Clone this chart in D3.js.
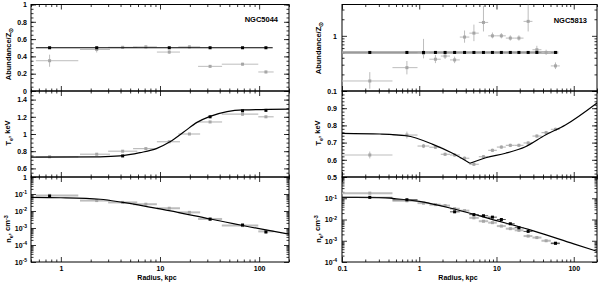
<!DOCTYPE html>
<html><head><meta charset="utf-8">
<script src="https://cdn.jsdelivr.net/npm/d3@7"></script>
<style>body{margin:0;background:#fff}svg{display:block}text{font-family:"Liberation Sans",Arial,sans-serif;font-weight:bold;fill:#000}</style>
</head><body><svg id="c" width="600" height="282"></svg>
<script>
// ---------------- NGC5044 (left) ----------------
const r5044   = [0.77, 2.3, 4.2, 7.2, 12.4, 19.8, 32, 68, 117];
const r5044Lo = [0.56, 1.56, 3.0, 5.35, 9.3, 15.3, 24.2, 42, 98];
const r5044Hi = [1.5, 3.13, 5.9, 9.3, 15.9, 25.4, 42.3, 98, 140];
const abund5044    = [0.35, 0.48, 0.505, 0.51, 0.45, 0.51, 0.285, 0.31, 0.22];
const abund5044Err = [0.07, 0.035, 0.015, 0.015, 0.02, 0.015, 0.015, 0.015, 0.015];
const abModel5044R = [0.77, 2.3, 12.4, 32, 68, 117];
const abModel5044  = [0.5, 0.5, 0.5, 0.5, 0.5, 0.5];
const abLine5044   = [[0.56, 0.5], [137, 0.5]];
const temp5044     = [0.735, 0.765, 0.80, 0.83, 0.91, 1.0, 1.14, 1.23, 1.2];
const temp5044Err  = [0.01, 0.01, 0.01, 0.01, 0.01, 0.01, 0.012, 0.015, 0.01];
const tModel5044R  = [4.2, 32, 68, 117];
const tModel5044   = [0.745, 1.2, 1.27, 1.275];
const tCurve5044R  = [0.5, 2.48, 3.95, 6.29, 9.3, 12.6, 17.2, 23.6, 32, 47.5, 69, 200];
const tCurve5044   = [0.73, 0.735, 0.745, 0.783, 0.833, 0.91, 1.02, 1.135, 1.205, 1.26, 1.28, 1.29];
const dens5044     = [0.083, 0.041, 0.032, 0.025, 0.0145, 0.0083, 0.0034, 0.00138, 0.00063];
const nModel5044R  = [0.77, 32, 68, 117];
const nModel5044   = [0.075, 0.0033, 0.0015, 0.00058];
const nCurve5044R  = [0.5, 1, 2.5, 4.2, 10, 32, 100, 200];
const nCurve5044   = [0.063, 0.06, 0.049, 0.032, 0.0132, 0.0034, 0.00091, 0.00044];

// ---------------- NGC5813 (right) ----------------
const r5813   = [0.229, 0.692, 1.136, 1.62, 2.16, 2.87, 3.86, 5.1, 6.78, 8.86, 11.56, 15.1, 19.5, 25.7, 33.3, 43.9, 58.0];
const r5813Lo = [0.1, 0.45, 0.95, 1.35, 1.9, 2.5, 3.35, 4.45, 5.9, 7.8, 10.1, 13.2, 17.2, 22.4, 29.2, 38.2, 50.5];
const r5813Hi = [0.45, 0.95, 1.35, 1.9, 2.5, 3.35, 4.45, 5.9, 7.8, 10.1, 13.2, 17.2, 22.4, 29.2, 38.2, 50.5, 66];
const abund5813   = [0.152, 0.265, 0.485, 0.377, 0.43, 0.366, 0.95, 1.12, 1.75, 1.0, 1.0, 0.91, 0.91, 1.83, 0.56, 0.5, 0.285];
const abund5813Lo = [0.11, 0.2, 0.39, 0.32, 0.38, 0.32, 0.75, 0.8, 1.2, 0.9, 0.9, 0.82, 0.82, 1.2, 0.48, 0.45, 0.25];
const abund5813Hi = [0.22, 0.35, 0.88, 0.45, 0.5, 0.42, 1.25, 1.6, 3.5, 1.15, 1.12, 1.02, 1.02, 3.7, 0.66, 0.56, 0.33];
const abModel5813R = [0.229, 0.692, 1.136, 1.62, 2.16, 2.87, 3.86, 5.1, 6.78, 8.86, 11.56, 15.1, 19.5, 25.7, 33.3, 58.0];
const abModel5813  = [0.5, 0.5, 0.5, 0.5, 0.5, 0.5, 0.5, 0.5, 0.5, 0.5, 0.5, 0.5, 0.5, 0.5, 0.5, 0.5];
const abLine5813   = [[0.1, 0.5], [63, 0.5]];
const temp5813    = [0.628, 0.744, 0.68, 0.673, 0.632, 0.628, 0.609, 0.574, 0.618, 0.655, 0.674, 0.684, 0.684, 0.698, 0.738, 0.758, 0.777];
const temp5813Err = [0.02, 0.02, 0.012, 0.01, 0.01, 0.01, 0.01, 0.01, 0.01, 0.01, 0.01, 0.01, 0.01, 0.01, 0.01, 0.01, 0.01];
const tCurve5813aR = [0.1, 0.31, 0.68, 1.5, 2.7, 4.53];
const tCurve5813a  = [0.754, 0.75, 0.74, 0.69, 0.638, 0.58];
const tCurve5813bR = [4.53, 7.26, 13.1, 23.7, 43, 78, 200];
const tCurve5813b  = [0.58, 0.612, 0.638, 0.676, 0.744, 0.802, 0.93];
const dens5813    = [0.174, 0.076, 0.059, 0.05, 0.045, 0.032, 0.026, 0.012, 0.0083, 0.0071, 0.0049, 0.0037, 0.0031, 0.00166, 0.00141, 0.001, 0.00076];
const nModel5813R = [0.229, 0.692, 2.87, 5.1, 6.78, 8.86, 11.56, 15.1, 19.5, 25.7, 58.0];
const nModel5813  = [0.11, 0.085, 0.023, 0.017, 0.015, 0.0129, 0.01, 0.0063, 0.0041, 0.00275, 0.00076];
const nCurve5813R = [0.1, 0.3, 0.5, 1, 3, 10, 30, 100, 200];
const nCurve5813  = [0.11, 0.107, 0.095, 0.071, 0.0295, 0.0089, 0.0029, 0.00071, 0.00032];

// ---------------- tick labels ----------------
const xLabelsL = [1, 10, 100];
const xLabelsR = [0.1, 1, 10, 100];
const abLabelsL = [0, 0.2, 0.4, 0.6, 0.8, 1];
const tLabelsL  = [0.6, 0.8, 1, 1.2, 1.4];
const nLabelsL  = [1, 0.1, 0.01, 0.001, 0.0001, 0.00001];
const abLabelsR = [0.1, 1];
const tLabelsR  = [0.5, 0.6, 0.7, 0.8, 0.9];
const nLabelsR  = [0.1, 0.01, 0.001, 0.0001];

// ---------------- layout ----------------
const svg = d3.select('#c');
const ROWS = [[4.5, 91], [91, 177], [177, 262]];
const GREY = '#a6a6a6', GREYBAR = '#bdbdbd';

const xL = d3.scaleLog().domain([0.5, 200]).range([31, 289]);
const xR = d3.scaleLog().domain([0.1, 200]).range([342, 597]);
const yAbL = d3.scaleLinear().domain([0, 1]).range([ROWS[0][1], ROWS[0][0]]);
const yTL  = d3.scaleLinear().domain([0.5, 1.5]).range([ROWS[1][1], ROWS[1][0]]);
const yNL  = d3.scaleLog().domain([1e-5, 1]).range([ROWS[2][1], ROWS[2][0]]);
const yAbR = d3.scaleLog().domain([0.1, 3.7]).range([ROWS[0][1], ROWS[0][0]]);
const yTR  = d3.scaleLinear().domain([0.5, 1.0]).range([ROWS[1][1], ROWS[1][0]]);
const yNR  = d3.scaleLog().domain([1e-4, 1]).range([ROWS[2][1], ROWS[2][0]]);

function isDecade(v){ const l = Math.log10(v); return Math.abs(l - Math.round(l)) < 1e-6; }

function tickAxis(g, axisFn, scale, pos, values, len, horiz){
  const gg = g.append('g').attr('transform', horiz ? `translate(0,${pos})` : `translate(${pos},0)`)
    .call(axisFn(scale).tickValues(values).tickSize(-len).tickFormat(''));
  gg.select('.domain').remove();
  gg.selectAll('line').attr('stroke', '#000').attr('stroke-width', 0.8);
}

function frame(x, y, xMajor, xMinor, yMajor, yMinor){
  const g = svg.append('g');
  const [x0, x1] = x.range(); const [y1, y0] = y.range();
  tickAxis(g, d3.axisBottom, x, y1, xMajor, 5, true);
  tickAxis(g, d3.axisBottom, x, y1, xMinor, 2.5, true);
  tickAxis(g, d3.axisTop, x, y0, xMajor, 5, true);
  tickAxis(g, d3.axisTop, x, y0, xMinor, 2.5, true);
  tickAxis(g, d3.axisLeft, y, x0, yMajor, 5, false);
  tickAxis(g, d3.axisLeft, y, x0, yMinor, 2.5, false);
  tickAxis(g, d3.axisRight, y, x1, yMajor, 5, false);
  tickAxis(g, d3.axisRight, y, x1, yMinor, 2.5, false);
  g.append('rect').attr('x', x0).attr('y', y0).attr('width', x1 - x0).attr('height', y1 - y0)
    .attr('fill', 'none').attr('stroke', '#000').attr('stroke-width', 1);
}

function yLabels(scale, pos, values, pad, pow){
  const gg = svg.append('g').attr('transform', `translate(${pos},0)`)
    .call(d3.axisLeft(scale).tickValues(values).tickSize(0).tickPadding(pad).tickFormat(d => String(d)));
  gg.select('.domain').remove();
  gg.attr('font-family', null).attr('font-size', null);
  gg.selectAll('text').attr('font-size', '7px');
  if (pow) {
    gg.selectAll('.tick text').each(function(d){
      const t = d3.select(this);
      if (d === 1) { t.text('1'); return; }
      const e = Math.round(Math.log10(d));
      t.text(null);
      t.append('tspan').text('10');
      t.append('tspan').attr('dy', '-0.5em').attr('font-size', '5px').text('-' + Math.abs(e));
    });
  }
}

function xLabels(scale, pos, values){
  const gg = svg.append('g').attr('transform', `translate(0,${pos})`)
    .call(d3.axisBottom(scale).tickValues(values).tickSize(0).tickPadding(4).tickFormat(d => String(d)));
  gg.select('.domain').remove();
  gg.attr('font-family', null).attr('font-size', null);
  gg.selectAll('text').attr('font-size', '7px');
}

function linTicks(scale, step){ return scale.ticks(Math.round((scale.domain()[1]-scale.domain()[0])/step)); }

// ---- frames ----
const xLall = xL.ticks(), xRall = xR.ticks();
const xLmaj = xLall.filter(isDecade), xLmin = xLall.filter(v => !isDecade(v));
const xRmaj = xRall.filter(isDecade), xRmin = xRall.filter(v => !isDecade(v));

frame(xL, yAbL, xLmaj, xLmin, linTicks(yAbL, 0.2), linTicks(yAbL, 0.05));
frame(xL, yTL, xLmaj, xLmin, [0.6, 0.8, 1.0, 1.2, 1.4], linTicks(yTL, 0.05));
frame(xL, yNL, xLmaj, xLmin, yNL.ticks().filter(isDecade), yNL.ticks().filter(v => !isDecade(v)));
frame(xR, yAbR, xRmaj, xRmin, yAbR.ticks().filter(isDecade), yAbR.ticks().filter(v => !isDecade(v)));
frame(xR, yTR, xRmaj, xRmin, linTicks(yTR, 0.1), linTicks(yTR, 0.02));
frame(xR, yNR, xRmaj, xRmin, yNR.ticks().filter(isDecade), yNR.ticks().filter(v => !isDecade(v)));

// ---- tick labels ----
yLabels(yAbL, 31, abLabelsL, 4, false);
yLabels(yTL, 31, tLabelsL, 4, false);
yLabels(yNL, 31, nLabelsL, 4, true);
yLabels(yAbR, 342, abLabelsR, 5, false);
yLabels(yTR, 342, tLabelsR, 5, false);
yLabels(yNR, 342, nLabelsR, 5, true);
xLabels(xL, 262, xLabelsL);
xLabels(xR, 262, xLabelsR);

// ---- clip paths ----
const defs = svg.append('defs');
function clipFor(id, x, y){
  const [x0, x1] = x.range(); const [y1, y0] = y.range();
  defs.append('clipPath').attr('id', id).append('rect').attr('x', x0).attr('y', y0).attr('width', x1-x0).attr('height', y1-y0);
  return svg.append('g').attr('clip-path', `url(#${id})`);
}

// ---- drawing helpers ----
function hbars(g, x, y, lo, hi, v, color, w){
  g.selectAll(null).data(v.map((d,i)=>({lo:lo[i], hi:hi[i], v:d}))).join('line')
    .attr('x1', d => x(d.lo)).attr('x2', d => x(d.hi)).attr('y1', d => y(d.v)).attr('y2', d => y(d.v))
    .attr('stroke', color).attr('stroke-width', w);
}
function vbars(g, x, y, r, lo, hi, color, w){
  g.selectAll(null).data(r.map((d,i)=>({r:d, lo:lo[i], hi:hi[i]}))).join('line')
    .attr('x1', d => x(d.r)).attr('x2', d => x(d.r)).attr('y1', d => y(d.lo)).attr('y2', d => y(d.hi))
    .attr('stroke', color).attr('stroke-width', w);
}
function squares(g, x, y, r, v, color, s){
  g.selectAll(null).data(r.map((d,i)=>[d, v[i]])).join('rect')
    .attr('x', d => x(d[0]) - s/2).attr('y', d => y(d[1]) - s/2).attr('width', s).attr('height', s)
    .attr('fill', color);
}
function curve(g, x, y, r, v, color, w){
  g.append('path').datum(r.map((d,i)=>[d, v[i]]))
    .attr('d', d3.line().x(d => x(d[0])).y(d => y(d[1])).curve(d3.curveMonotoneX))
    .attr('fill', 'none').attr('stroke', color).attr('stroke-width', w);
}

// ---- NGC5044 abundance ----
let g = clipFor('c1', xL, yAbL);
hbars(g, xL, yAbL, r5044Lo, r5044Hi, abund5044, GREYBAR, 1);
vbars(g, xL, yAbL, r5044, abund5044.map((v,i)=>v-abund5044Err[i]), abund5044.map((v,i)=>v+abund5044Err[i]), GREYBAR, 1);
squares(g, xL, yAbL, r5044, abund5044, GREY, 3);
curve(g, xL, yAbL, abLine5044.map(d=>d[0]), abLine5044.map(d=>d[1]), '#000', 1);
squares(g, xL, yAbL, abModel5044R, abModel5044, '#000', 3);

// ---- NGC5044 temperature ----
g = clipFor('c2', xL, yTL);
hbars(g, xL, yTL, r5044Lo, r5044Hi, temp5044, GREYBAR, 1.2);
vbars(g, xL, yTL, r5044, temp5044.map((v,i)=>v-temp5044Err[i]), temp5044.map((v,i)=>v+temp5044Err[i]), GREYBAR, 1);
squares(g, xL, yTL, r5044, temp5044, GREY, 3);
curve(g, xL, yTL, tCurve5044R, tCurve5044, '#000', 1.2);
squares(g, xL, yTL, tModel5044R, tModel5044, '#000', 3);

// ---- NGC5044 density ----
g = clipFor('c3', xL, yNL);
hbars(g, xL, yNL, r5044Lo, r5044Hi, dens5044, GREYBAR, 2);
squares(g, xL, yNL, r5044, dens5044, GREY, 3);
curve(g, xL, yNL, nCurve5044R, nCurve5044, '#000', 1.2);
squares(g, xL, yNL, nModel5044R, nModel5044, '#000', 3);

// ---- NGC5813 abundance ----
g = clipFor('c4', xR, yAbR);
curve(g, xR, yAbR, abLine5813.map(d=>d[0]), abLine5813.map(d=>d[1]), '#9a9a9a', 2.5);
hbars(g, xR, yAbR, r5813Lo, r5813Hi, abund5813, GREYBAR, 1);
vbars(g, xR, yAbR, r5813, abund5813Lo, abund5813Hi, GREYBAR, 1);
squares(g, xR, yAbR, r5813, abund5813, GREY, 3);
squares(g, xR, yAbR, abModel5813R, abModel5813, '#000', 3);

// ---- NGC5813 temperature ----
g = clipFor('c5', xR, yTR);
hbars(g, xR, yTR, r5813Lo, r5813Hi, temp5813, GREYBAR, 1.2);
vbars(g, xR, yTR, r5813, temp5813.map((v,i)=>v-temp5813Err[i]), temp5813.map((v,i)=>v+temp5813Err[i]), GREYBAR, 1);
squares(g, xR, yTR, r5813, temp5813, GREY, 3);
curve(g, xR, yTR, tCurve5813aR, tCurve5813a, '#000', 1.2);
curve(g, xR, yTR, tCurve5813bR, tCurve5813b, '#000', 1.2);

// ---- NGC5813 density ----
g = clipFor('c6', xR, yNR);
hbars(g, xR, yNR, r5813Lo, r5813Hi, dens5813, GREYBAR, 2);
squares(g, xR, yNR, r5813, dens5813, GREY, 3);
curve(g, xR, yNR, nCurve5813R, nCurve5813, '#000', 1.2);
const mIdx = nModel5813R.map(r => r5813.indexOf(r));
hbars(g, xR, yNR, mIdx.map(i=>r5813Lo[i]), mIdx.map(i=>r5813Hi[i]), nModel5813, '#222', 0.8);
squares(g, xR, yNR, nModel5813R, nModel5813, '#000', 3);

// ---- titles ----
function yTitle(x, y, parts){
  const t = svg.append('text').attr('transform', `translate(${x},${y}) rotate(-90)`).attr('text-anchor', 'middle').attr('font-size', '7.5px');
  parts.forEach(p => {
    const s = t.append('tspan').text(p.t);
    if (p.dy) s.attr('dy', p.dy);
    if (p.fs) s.attr('font-size', p.fs);
  });
}
const abTitle = [{t:'Abundance/Z'}, {t:'\u2299', dy:'0.3em', fs:'5.5px'}];
const tTitle  = [{t:'T'}, {t:'e', dy:'0.3em', fs:'5.5px'}, {t:', keV', dy:'-0.3em'}];
const nTitle  = [{t:'n'}, {t:'e', dy:'0.3em', fs:'5.5px'}, {t:', cm', dy:'-0.3em'}, {t:'-3', dy:'-0.45em', fs:'5.5px'}];
yTitle(11, 54, abTitle); yTitle(11, 133, tTitle); yTitle(11, 229, nTitle);
yTitle(321, 48, abTitle); yTitle(321, 133, tTitle); yTitle(321, 229, nTitle);

svg.append('text').attr('x', 157).attr('y', 280).attr('text-anchor', 'middle').attr('font-size', '7px').text('Radius, kpc');
svg.append('text').attr('x', 458).attr('y', 280).attr('text-anchor', 'middle').attr('font-size', '7px').text('Radius, kpc');
svg.append('text').attr('x', 278).attr('y', 22).attr('text-anchor', 'end').attr('font-size', '7.5px').text('NGC5044');
svg.append('text').attr('x', 587).attr('y', 23).attr('text-anchor', 'end').attr('font-size', '7.5px').text('NGC5813');
</script></body></html>
